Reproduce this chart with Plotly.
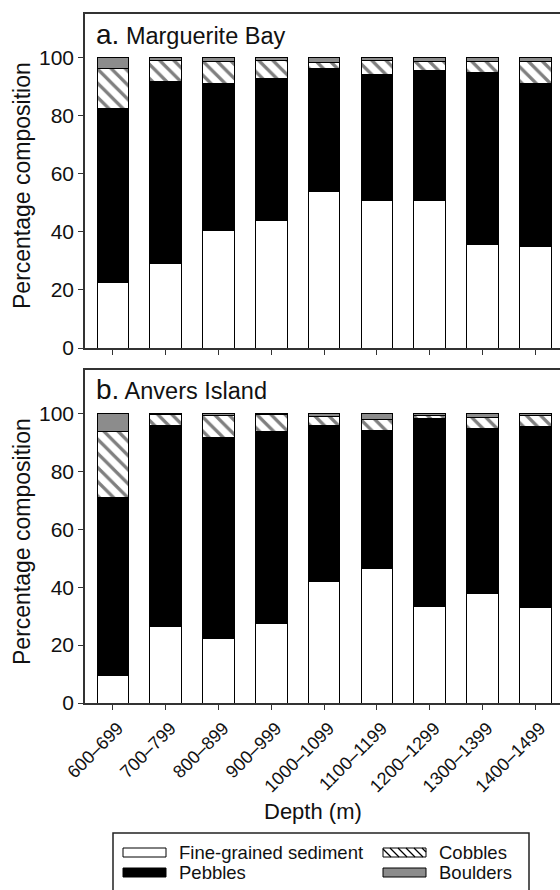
import plotly.graph_objects as go

# Depth bins shared by both sites
depth_bins = ["600–699", "700–799", "800–899", "900–999", "1000–1099",
              "1100–1199", "1200–1299", "1300–1399", "1400–1499"]

# a. Marguerite Bay: percentage of each substrate class per depth bin
mb_fine = [22.4, 29.0, 40.5, 43.8, 53.9, 50.8, 50.8, 35.6, 34.9]
mb_pebbles = [59.9, 62.7, 50.5, 49.1, 42.2, 43.3, 44.9, 59.3, 56.1]
mb_cobbles = [14.1, 7.4, 7.7, 6.1, 2.3, 5.0, 3.0, 3.6, 7.5]
mb_boulders = [3.6, 0.9, 1.3, 1.0, 1.6, 0.9, 1.3, 1.5, 1.5]

# b. Anvers Island
ai_fine = [9.5, 26.4, 22.4, 27.4, 41.9, 46.6, 33.5, 37.8, 33.1]
ai_pebbles = [61.5, 69.4, 69.2, 66.5, 54.0, 47.4, 64.7, 57.0, 62.4]
ai_cobbles = [22.9, 3.9, 7.7, 5.6, 3.0, 3.9, 1.2, 3.9, 3.8]
ai_boulders = [6.1, 0.3, 0.7, 0.5, 1.1, 2.1, 0.6, 1.3, 0.7]

y_ticks = [0, 20, 40, 60, 80, 100]

W, H = 560, 890
ML = 85
PW = W - ML
FONT = "Liberation Sans, Arial, Helvetica, sans-serif"
INK = "#111111"
AXIS = "#333333"
GREY = "#8c8c8c"


def px(x):
    return (x - ML) / PW


def py(y):
    return 1 - y / H


fig = go.Figure()


def add_panel(fine, pebbles, cobbles, boulders, xa, ya):
    common = dict(x=depth_bins, xaxis=xa, yaxis=ya, width=0.6, showlegend=False)
    fig.add_trace(go.Bar(y=fine, name="Fine-grained sediment",
                         marker=dict(color="white", line=dict(color="black", width=1)),
                         **common))
    fig.add_trace(go.Bar(y=pebbles, name="Pebbles",
                         marker=dict(color="black", line=dict(color="black", width=1)),
                         **common))
    fig.add_trace(go.Bar(y=cobbles, name="Cobbles",
                         marker=dict(color="white", line=dict(color="black", width=1),
                                     pattern=dict(shape="\\", fgcolor="black",
                                                  bgcolor="white", size=10,
                                                  solidity=0.33)),
                         **common))
    fig.add_trace(go.Bar(y=boulders, name="Boulders",
                         marker=dict(color=GREY, line=dict(color="black", width=1)),
                         **common))


add_panel(mb_fine, mb_pebbles, mb_cobbles, mb_boulders, "x", "y")
add_panel(ai_fine, ai_pebbles, ai_cobbles, ai_boulders, "x2", "y2")

xcommon = dict(range=[-0.53, 8.47], showline=True, linecolor=AXIS, linewidth=1.5,
               mirror=True, ticks="outside", ticklen=5, tickcolor=AXIS,
               showgrid=False, zeroline=False, automargin=False,
               categoryorder="array", categoryarray=depth_bins)
ycommon = dict(range=[0, 115], tickvals=y_ticks, showline=True, linecolor=AXIS,
               linewidth=1.5, ticks="outside", ticklen=5, tickcolor=AXIS,
               showgrid=False, zeroline=False, automargin=False,
               tickfont=dict(family=FONT, size=21, color=INK))

fig.update_layout(
    width=W, height=H,
    margin=dict(l=ML, r=0, t=0, b=0),
    paper_bgcolor="white", plot_bgcolor="white",
    barmode="stack", bargap=0.4,
    font=dict(family=FONT, color=INK),
    xaxis=dict(domain=[0, 1], anchor="y", showticklabels=False, **xcommon),
    yaxis=dict(domain=[py(348), py(14)], anchor="x", **ycommon),
    xaxis2=dict(domain=[0, 1], anchor="y2", tickangle=-45,
                ticklabelshift=5, ticklabelstandoff=1,
                tickfont=dict(family=FONT, size=18, color=INK), **xcommon),
    yaxis2=dict(domain=[py(703), py(370)], anchor="x2", **ycommon),
)

annotations = []
# Y axis titles
for yc in (186, 542):
    annotations.append(dict(text="Percentage composition", textangle=-90,
                            x=px(22), y=py(yc), xref="paper", yref="paper",
                            xanchor="center", yanchor="middle", showarrow=False,
                            font=dict(family=FONT, size=23, color=INK)))
# Panel labels
annotations.append(dict(text="<span style='font-size:28px'>a.</span> Marguerite Bay",
                        x=px(94), y=py(35), xref="paper", yref="paper",
                        xanchor="left", yanchor="middle", showarrow=False,
                        font=dict(family=FONT, size=23.5, color=INK)))
annotations.append(dict(text="<span style='font-size:28px'>b.</span> Anvers Island",
                        x=px(94), y=py(390), xref="paper", yref="paper",
                        xanchor="left", yanchor="middle", showarrow=False,
                        font=dict(family=FONT, size=23.5, color=INK)))
# X axis title
annotations.append(dict(text="Depth (m)", x=px(313), y=py(811), xref="paper",
                        yref="paper", xanchor="center", yanchor="middle",
                        showarrow=False, font=dict(family=FONT, size=22, color=INK)))

# Legend, drawn as a boxed key
shapes = []
shapes.append(dict(type="rect", xref="paper", yref="paper",
                   x0=px(113), x1=px(529), y0=py(900), y1=py(833),
                   line=dict(color="#222222", width=1.5), fillcolor="rgba(0,0,0,0)"))

legend_items = [
    ("Fine-grained sediment", "white", 123, 848),
    ("Pebbles", "black", 123, 868),
    ("Cobbles", "hatch", 383, 848),
    ("Boulders", GREY, 383, 868),
]
SW, SH = 43, 9
for label, fill, sx, sy in legend_items:
    if fill == "hatch":
        shapes.append(dict(type="rect", xref="paper", yref="paper",
                           x0=px(sx), x1=px(sx + SW), y0=py(sy + SH), y1=py(sy),
                           line=dict(color="black", width=1), fillcolor="white"))
        step = 8
        start = sx - SH
        k = 0
        while start + k * step < sx + SW:
            xa = start + k * step
            xb = xa + SH
            ya, yb = sy, sy + SH
            # clip the diagonal to the swatch
            if xa < sx:
                ya = sy + (sx - xa)
                xa = sx
            if xb > sx + SW:
                yb = sy + SH - (xb - (sx + SW))
                xb = sx + SW
            if xb > xa:
                shapes.append(dict(type="line", xref="paper", yref="paper",
                                   x0=px(xa), x1=px(xb), y0=py(ya), y1=py(yb),
                                   line=dict(color="black", width=1.2)))
            k += 1
    else:
        shapes.append(dict(type="rect", xref="paper", yref="paper",
                           x0=px(sx), x1=px(sx + SW), y0=py(sy + SH), y1=py(sy),
                           line=dict(color="black", width=1), fillcolor=fill))
    annotations.append(dict(text=label, x=px(sx + 54), y=py(sy + SH / 2),
                            xref="paper", yref="paper", xanchor="left",
                            yanchor="middle", showarrow=False,
                            font=dict(family=FONT, size=18.5, color=INK)))

fig.update_layout(annotations=annotations, shapes=shapes)

fig.write_html("out.html")
